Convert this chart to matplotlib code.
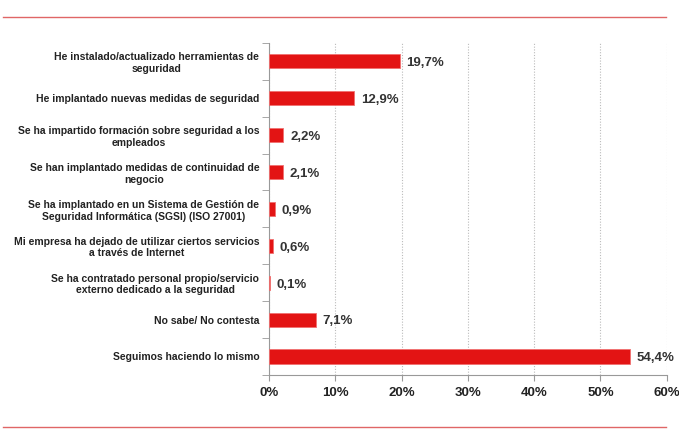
import matplotlib.pyplot as plt
from matplotlib.lines import Line2D
from matplotlib.ticker import FixedLocator, PercentFormatter

plt.rcParams['font.family'] = ['Liberation Sans', 'DejaVu Sans']

categories = [
    "He instalado/actualizado herramientas de\nseguridad",
    "He implantado nuevas medidas de seguridad",
    "Se ha impartido formación sobre seguridad a los\nempleados",
    "Se han implantado medidas de continuidad de\nnegocio",
    "Se ha implantado en un Sistema de Gestión de\nSeguridad Informática (SGSI) (ISO 27001)",
    "Mi empresa ha dejado de utilizar ciertos servicios\na través de Internet",
    "Se ha contratado personal propio/servicio\nexterno dedicado a la seguridad",
    "No sabe/ No contesta",
    "Seguimos haciendo lo mismo",
]
values = [19.7, 12.9, 2.2, 2.1, 0.9, 0.6, 0.1, 7.1, 54.4]
value_labels = ["19,7%", "12,9%", "2,2%", "2,1%", "0,9%", "0,6%", "0,1%", "7,1%", "54,4%"]
xticks = [0, 10, 20, 30, 40, 50, 60]

fig = plt.figure(figsize=(6.79, 4.29), dpi=100)
ax = fig.add_axes([0.396, 0.126, 0.586, 0.774])

y = list(range(len(categories)))
ax.barh(y, values, height=0.38, color="#E31414", edgecolor="#F07070", linewidth=0.6, zorder=3)

for yi, v, lab in zip(y, values, value_labels):
    ax.text(v + 1.0, yi + 0.05, lab, va="center", ha="left", fontsize=9.5,
            fontweight="bold", color="#333333")

ax.set_xlim(0, 60)
ax.set_ylim(len(categories) - 0.5, -0.5)
ax.set_xticks(xticks)
ax.xaxis.set_major_formatter(PercentFormatter(decimals=0))
ax.set_yticks(y)
ax.set_yticklabels(categories, fontsize=7.5, fontweight="bold", color="#222222",
                   multialignment="center")
ax.yaxis.set_minor_locator(FixedLocator([i - 0.5 for i in range(len(categories) + 1)]))
ax.tick_params(axis="y", which="major", length=0, pad=7)
ax.tick_params(axis="y", which="minor", length=5, color="#999999")
ax.tick_params(axis="x", length=4, color="#999999", labelsize=9.5, pad=5)
for lab in ax.get_xticklabels():
    lab.set_fontweight("bold")
    lab.set_color("#222222")

ax.grid(axis="x", linestyle=(0, (1, 1.5)), color="#BBBBBB", linewidth=0.8, zorder=0)
ax.spines["top"].set_visible(False)
ax.spines["right"].set_visible(False)
ax.spines["left"].set_color("#999999")
ax.spines["bottom"].set_color("#999999")

fig.add_artist(Line2D([3 / 679, 666 / 679], [1 - 17 / 429, 1 - 17 / 429],
                      color="#E06666", linewidth=1.0))
fig.add_artist(Line2D([3 / 679, 666 / 679], [1 - 427 / 429, 1 - 427 / 429],
                      color="#E06666", linewidth=1.0))

fig.savefig("out.png", dpi=100)
